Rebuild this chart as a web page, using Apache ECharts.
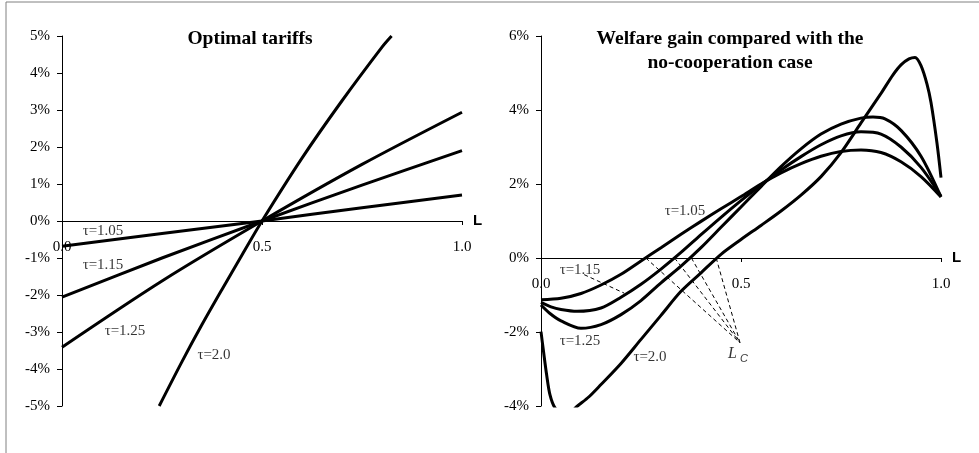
<!DOCTYPE html>
<html>
<head>
<meta charset="utf-8">
<script src="https://cdn.jsdelivr.net/npm/echarts@6/dist/echarts.min.js"></script>
<style>
html,body{margin:0;padding:0;background:#fff;}
#chart{width:979px;height:453px;}
</style>
</head>
<body>
<div id="chart"></div>
<script>
// ---- data (L, value in %) ----
const leftTitle = 'Optimal tariffs';
const rightTitle = 'Welfare gain compared with the\nno-cooperation case';
const xTicksFmt = v => v.toFixed(1);

// Optimal tariffs
const tariff105 = [[0,-0.68],[0.25,-0.34],[0.5,0],[0.75,0.36],[1,0.70]];
const tariff115 = [[0,-2.06],[0.25,-1.0],[0.5,0],[0.75,0.97],[1,1.90]];
const tariff125 = [[0,-3.41],[0.25,-1.62],[0.5,0],[0.75,1.53],[1,2.94]];
const tariff20  = [[0.243,-5],[0.3,-3.8],[0.35,-2.8],[0.4,-1.85],[0.45,-0.92],[0.5,0],[0.6,1.7],[0.7,3.25],[0.8,4.7],[0.824,5.0]];

// Welfare gain
const gain105 = [[0,-1.13],[0.05,-1.09],[0.1,-0.96],[0.15,-0.73],[0.2,-0.44],[0.25,-0.08],[0.3,0.28],[0.35,0.64],[0.4,0.99],[0.45,1.33],[0.5,1.66],[0.55,2.0],[0.6,2.3],[0.65,2.55],[0.7,2.75],[0.75,2.88],[0.8,2.92],[0.85,2.85],[0.9,2.6],[0.95,2.2],[1,1.65]];
const gain115 = [[0,-1.2],[0.025,-1.32],[0.05,-1.39],[0.09,-1.44],[0.15,-1.35],[0.2,-1.06],[0.25,-0.71],[0.3,-0.3],[0.35,0.15],[0.4,0.63],[0.45,1.1],[0.5,1.55],[0.55,1.98],[0.6,2.38],[0.65,2.74],[0.7,3.06],[0.75,3.3],[0.8,3.41],[0.85,3.35],[0.9,3.0],[0.95,2.45],[1,1.67]];
const gain125 = [[0,-1.27],[0.0225,-1.5],[0.05,-1.7],[0.1,-1.9],[0.15,-1.8],[0.2,-1.53],[0.25,-1.15],[0.3,-0.67],[0.35,-0.22],[0.4,0.28],[0.45,0.83],[0.5,1.38],[0.55,1.93],[0.6,2.47],[0.65,2.95],[0.7,3.35],[0.75,3.62],[0.8,3.78],[0.83,3.81],[0.86,3.76],[0.9,3.45],[0.95,2.75],[1,1.65]];
const gain20  = [[0,-1.99],[0.006,-2.5],[0.014,-3.15],[0.0225,-3.7],[0.035,-4.05],[0.06,-4.3],[0.089,-4.02],[0.12,-3.75],[0.15,-3.42],[0.2,-2.85],[0.25,-2.2],[0.3,-1.55],[0.35,-0.9],[0.4,-0.4],[0.45,0.1],[0.5,0.5],[0.55,0.88],[0.6,1.27],[0.65,1.7],[0.7,2.2],[0.75,2.85],[0.8,3.65],[0.85,4.45],[0.88,4.95],[0.9,5.22],[0.92,5.38],[0.935,5.42],[0.95,5.2],[0.965,4.7],[0.975,4.2],[0.99,3.1],[1,2.17]];

// annotations
const leftLabels = [
  {name:'τ=1.05', value:[0.1025,-0.27]},
  {name:'τ=1.15', value:[0.1025,-1.19]},
  {name:'τ=1.25', value:[0.1575,-2.97]},
  {name:'τ=2.0',  value:[0.38,-3.62]}
];
const rightLabels = [
  {name:'τ=1.05', value:[0.36,1.27]},
  {name:'τ=1.15', value:[0.0975,-0.32]},
  {name:'τ=1.25', value:[0.0975,-2.24]},
  {name:'τ=2.0',  value:[0.2725,-2.68]}
];
const lcLabel = [{name:'LC', value:[0.4925,-2.6]}];
const lcPoint = [0.4975,-2.29];
const lcZeros = [0.262,0.334,0.376,0.438];
const leader115 = [[0.108,-0.45],[0.208,-0.95]];

const SERIF = '"Liberation Serif","Times New Roman",serif';
const SANS = '"Liberation Sans",Arial,sans-serif';

function xAxis(gi){
  return {
    type:'value', gridIndex:gi, min:0, max:1, interval:0.5, position:'bottom', offset:0,
    name:'L', nameLocation:'end', nameGap:11,
    nameTextStyle:{fontFamily:SANS, fontWeight:'bold', fontSize:15, color:'#000', verticalAlign:'middle'},
    axisLine:{show:true, onZero:false, lineStyle:{color:'#000', width:1}},
    axisTick:{show:true, length:4, lineStyle:{color:'#000'}},
    axisLabel:{formatter:xTicksFmt, margin:19, fontFamily:SERIF, fontSize:15, color:'#000'},
    splitLine:{show:false}
  };
}
function yAxis(gi, min, max, interval){
  return {
    type:'value', gridIndex:gi, min:min, max:max, interval:interval,
    axisLine:{show:true, onZero:false, lineStyle:{color:'#000', width:1}},
    axisTick:{show:true, length:5, lineStyle:{color:'#000'}},
    axisLabel:{formatter:'{value}%', margin:12, fontFamily:SERIF, fontSize:15, color:'#000'},
    splitLine:{show:false}
  };
}
function curve(data, xi){
  return {type:'line', xAxisIndex:xi, yAxisIndex:xi, data:data, symbol:'none', smooth:0.3,
    lineStyle:{color:'#000', width:3}, silent:true, z:3};
}
function dashed(data){
  return {type:'line', xAxisIndex:1, yAxisIndex:1, data:data, symbol:'none',
    lineStyle:{color:'#000', width:1, type:[4,3]}, silent:true, z:2};
}
function labels(data, xi, extra){
  return Object.assign({type:'scatter', xAxisIndex:xi, yAxisIndex:xi, data:data, symbolSize:0, silent:true, z:5,
    label:{show:true, position:'inside', formatter:'{b}', fontFamily:SERIF, fontSize:15, color:'#000'}}, extra||{});
}

const series = [
  curve(tariff105,0), curve(tariff115,0), curve(tariff125,0), curve(tariff20,0),
  curve(gain105,1), curve(gain115,1), curve(gain125,1), curve(gain20,1),
  labels(leftLabels,0), labels(rightLabels,1),
  labels(lcLabel,1,{label:{show:true, position:'inside', formatter:'{i|L}{s|C}',
    rich:{i:{fontFamily:SERIF, fontStyle:'italic', fontSize:16, color:'#000'},
          s:{fontFamily:SANS, fontStyle:'italic', fontSize:11, color:'#000', padding:[9,0,0,3]}}}}),
  dashed(leader115)
];
lcZeros.forEach(z => series.push(dashed([[z,0], lcPoint])));

const grids = [
  {left:62, top:36, width:400, height:370},
  {left:541, top:36, width:400, height:370}
];

const chart = echarts.init(document.getElementById('chart'), null, {renderer:'canvas'});
chart.setOption({
  animation:false,
  backgroundColor:'#fff',
  title:[
    {text:leftTitle, left:250, top:29, textAlign:'center', padding:0,
     textStyle:{fontFamily:SERIF, fontWeight:'bold', fontSize:19.5, color:'#000'}},
    {text:rightTitle, left:730, top:27, textAlign:'center', padding:0,
     textStyle:{fontFamily:SERIF, fontWeight:'bold', fontSize:19.5, lineHeight:24, color:'#000'}}
  ],
  graphic:[{type:'rect', shape:{x:6, y:2, width:1000, height:500}, style:{fill:null, stroke:'#808080', lineWidth:1}, silent:true}],
  grid:grids,
  xAxis:[xAxis(0), xAxis(1)],
  yAxis:[yAxis(0,-5,5,1), yAxis(1,-4,6,2)],
  series:series
});
// move each x axis (line, ticks, labels, name) up to the y = 0 level of its grid
const offsets = grids.map((g, i) => {
  const yZero = chart.convertToPixel({yAxisIndex:i}, 0);
  return -((g.top + g.height) - yZero);
});
chart.setOption({xAxis: offsets.map(o => ({offset:o}))});
</script>
</body>
</html>
